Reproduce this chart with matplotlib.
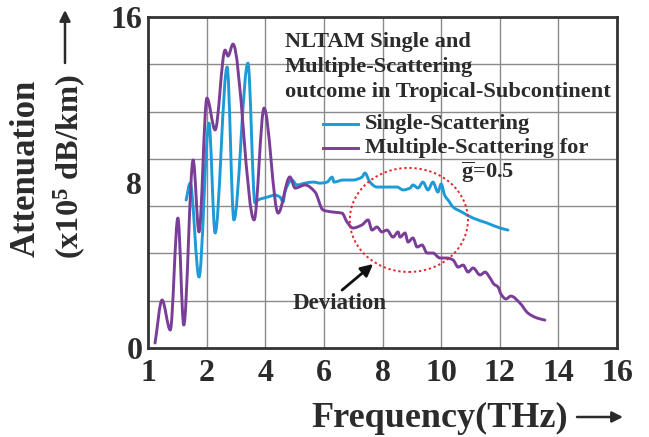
"""NLTAM attenuation vs frequency: single- vs multiple-scattering (g = 0.5)."""
import numpy as np
import matplotlib
matplotlib.use("Agg")
import matplotlib.pyplot as plt
from matplotlib.patches import Ellipse, PathPatch
from matplotlib.path import Path

plt.rcParams["font.family"] = ["Liberation Serif", "DejaVu Serif"]
plt.rcParams["font.weight"] = "bold"
plt.rcParams["mathtext.fontset"] = "custom"
plt.rcParams["mathtext.rm"] = "Liberation Serif:bold"
plt.rcParams["mathtext.it"] = "Liberation Serif:bold"
plt.rcParams["mathtext.bf"] = "Liberation Serif:bold"

W, H = 649, 437
TXT = "#2b2b2b"
BLUE = "#1c9bd7"
PURPLE = "#7a3d98"
RED = "#e3262c"

# single-scattering curve (THz, x1e5 dB/km)
single_freq = [1.65, 1.72, 1.87, 2.08, 2.29, 2.70, 2.93, 3.41, 3.65, 3.75,
               4.09, 4.33, 4.50, 4.61, 4.67, 4.91, 5.08, 5.36, 5.63, 5.87,
               6.11, 6.28, 6.35, 6.65, 6.99, 7.30, 7.40, 7.57, 7.81, 8.15,
               8.50, 8.70, 8.94, 9.04, 9.21, 9.38, 9.55, 9.72, 9.89, 10.00,
               10.13, 10.24, 10.41, 10.71, 11.09, 11.57, 12.01, 12.28]
single_att = [7.15, 7.97, 3.43, 10.87, 5.56, 13.58, 6.19, 13.77, 7.01, 7.15,
              7.30, 7.39, 7.30, 7.06, 7.54, 8.12, 7.88, 7.97, 8.02, 7.97,
              8.02, 8.26, 8.02, 8.12, 8.12, 8.26, 8.46, 8.02, 7.78, 7.78,
              7.78, 7.64, 7.73, 7.88, 7.73, 8.02, 7.64, 8.02, 7.54, 7.93,
              7.35, 7.15, 6.81, 6.57, 6.28, 6.04, 5.80, 5.70]

# multiple-scattering curve, asymmetry g = 0.5
multi_freq = [1.12, 1.24, 1.38, 1.51, 1.61, 1.77, 1.87, 2.01, 2.29, 2.63,
              2.73, 2.90, 3.62, 3.96, 4.44, 4.84, 5.02, 5.36, 5.70, 5.97,
              6.31, 6.62, 6.79, 6.99, 7.30, 7.51, 7.64, 7.81, 7.98, 8.15,
              8.36, 8.53, 8.60, 8.77, 8.87, 9.04, 9.18, 9.35, 9.52, 9.72,
              9.96, 10.20, 10.41, 10.58, 10.75, 10.92, 11.09, 11.33, 11.50, 11.67,
              11.80, 11.94, 12.04, 12.21, 12.38, 12.69, 12.96, 13.27, 13.54]
multi_att = [0.24, 2.32, 0.87, 6.28, 1.11, 9.09, 5.61, 12.08, 10.54, 14.40,
             14.11, 14.69, 6.19, 11.60, 6.52, 8.27, 7.73, 7.88, 7.54, 6.67,
             6.57, 6.52, 6.09, 5.80, 5.95, 6.19, 5.70, 5.85, 5.61, 5.70,
             5.36, 5.61, 5.36, 5.56, 5.12, 5.32, 4.88, 4.98, 4.59, 4.59,
             4.35, 4.35, 4.25, 3.91, 4.01, 3.67, 3.87, 3.53, 3.67, 3.38,
             3.09, 2.95, 2.61, 2.37, 2.51, 2.17, 1.69, 1.45, 1.35]

x_ticks = [1, 2, 4, 6, 8, 10, 12, 14, 16]
y_ticks = [0, 8, 16]


# axis is evenly spaced over 1, 2, 4, ..., 16
def fwd(f):
    f = np.asarray(f, dtype=float)
    return np.where(f < 2, f - 1, f / 2)


def inv(p):
    p = np.asarray(p, dtype=float)
    return np.where(p < 1, p + 1, p * 2)


def smooth_path(freq, att):
    """Shape-preserving (Fritsch-Carlson) cubic through the points, as Bezier segments."""
    x = fwd(freq)
    y = np.asarray(att, dtype=float)
    h = np.diff(x)
    d = np.diff(y) / h
    m = np.zeros_like(y)
    m[0], m[-1] = d[0], d[-1]
    for i in range(1, len(y) - 1):
        if d[i - 1] * d[i] > 0:
            w1, w2 = 2 * h[i] + h[i - 1], h[i] + 2 * h[i - 1]
            m[i] = (w1 + w2) / (w1 / d[i - 1] + w2 / d[i])
    verts = [(x[0], y[0])]
    for i in range(len(y) - 1):
        t = h[i] / 3
        verts += [(x[i] + t, y[i] + m[i] * t),
                  (x[i + 1] - t, y[i + 1] - m[i + 1] * t),
                  (x[i + 1], y[i + 1])]
    verts = np.array(verts)
    verts[:, 0] = inv(verts[:, 0])
    codes = [Path.MOVETO] + [Path.CURVE4] * (len(verts) - 1)
    return Path(verts, codes)


def fx(px):
    return px / W


def fy(py):
    return 1 - py / H


fig = plt.figure(figsize=(W / 100, H / 100), dpi=100)
ax = fig.add_axes([fx(148), fy(348), fx(617) - fx(148), fy(17) - fy(348)])
ax.set_xscale("function", functions=(fwd, inv))
ax.set_xlim(1, 16)
ax.set_ylim(0, 16)

ax.set_xticks(x_ticks)
ax.set_xticklabels([str(t) for t in x_ticks])
ax.set_yticks(y_ticks)
ax.set_yticks(np.linspace(0, 16, 8), minor=True)
ax.tick_params(which="both", length=0, labelsize=23, colors=TXT)
ax.tick_params(axis="x", pad=8)
ax.tick_params(axis="y", pad=4)
ax.grid(True, which="both", color="#8a8a8a", lw=1.0)
ax.grid(False, which="major", axis="y")
ax.set_axisbelow(True)
for sp in ax.spines.values():
    sp.set_color("#333333")
    sp.set_linewidth(2.0)

ax.add_patch(PathPatch(smooth_path(single_freq, single_att), fill=False, ec=BLUE,
                       lw=2.1, joinstyle="round", capstyle="round", zorder=3))
ax.add_patch(PathPatch(smooth_path(multi_freq, multi_att), fill=False, ec=PURPLE,
                       lw=2.1, joinstyle="round", capstyle="round", zorder=4))

# deviation region
ax.add_patch(Ellipse((8.9, 6.19), 4.03, 5.03, fill=False, ec=RED, lw=1.4,
                     ls=(0, (1.2, 1.4)), zorder=5))
ax.annotate("", xy=(7.68, 4.06), xytext=(6.62, 2.80),
            arrowprops=dict(arrowstyle="-|>", color="#111111", lw=2.0,
                            mutation_scale=18, shrinkA=0, shrinkB=0))
ax.text(6.55, 2.13, "Deviation", ha="center", va="center", fontsize=16.5, color=TXT)

# heading and legend
for i, line in enumerate(["NLTAM Single and", "Multiple-Scattering",
                          "outcome in Tropical-Subcontinent"]):
    fig.text(fx(285), fy(47 + 25 * i), line, fontsize=16.1, color=TXT, va="baseline")

fig.add_artist(plt.Line2D([fx(323), fx(358)], [fy(124), fy(124)], color=BLUE, lw=2.1))
fig.add_artist(plt.Line2D([fx(323), fx(358)], [fy(148), fy(148)], color=PURPLE, lw=2.1))
fig.text(fx(365), fy(124), "Single-Scattering", fontsize=16.2, color=TXT, va="center")
fig.text(fx(365), fy(148), "Multiple-Scattering for", fontsize=16.2, color=TXT, va="center")
fig.text(fx(461), fy(172), r"$\overline{\mathrm{g}}$=0.5", fontsize=16.2, color=TXT, va="center")

# axis titles with arrows
fig.text(fx(26), fy(168), "Attenuation", rotation=90, fontsize=25, color=TXT,
         ha="center", va="center")
fig.text(fx(70), fy(167), r"(x10$^5$ dB/km)", rotation=90, fontsize=23.3, color=TXT,
         ha="center", va="center")
fig.text(fx(311), fy(418), "Frequency(THz)", fontsize=26, color=TXT,
         ha="left", va="center")
arrow = dict(arrowstyle="-|>", color=TXT, lw=1.8, mutation_scale=16, shrinkA=0, shrinkB=0)
ax.annotate("", xy=(fx(65), fy(10)), xytext=(fx(65), fy(63)),
            xycoords="figure fraction", textcoords="figure fraction", arrowprops=arrow,
            annotation_clip=False)
ax.annotate("", xy=(fx(623), fy(417)), xytext=(fx(577), fy(417)),
            xycoords="figure fraction", textcoords="figure fraction", arrowprops=arrow,
            annotation_clip=False)

fig.savefig("out.png", dpi=100)
